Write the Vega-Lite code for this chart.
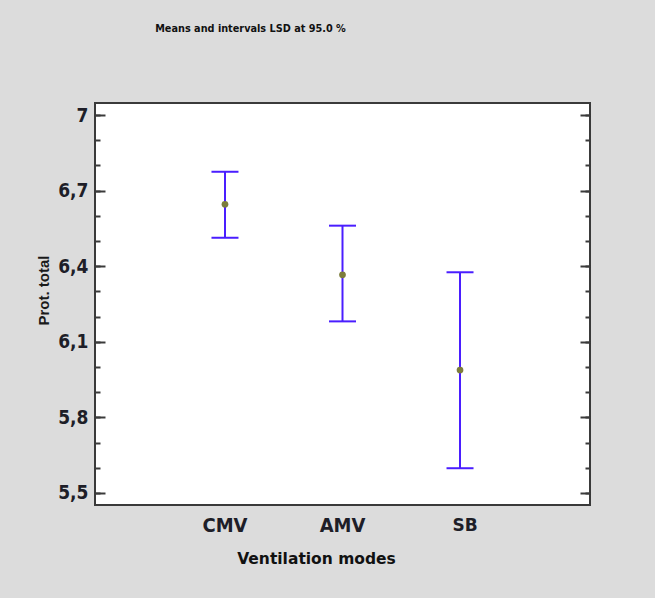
{
  "$schema": "https://vega.github.io/schema/vega-lite/v6.json",
  "autosize": "none",
  "width": 495,
  "height": 402,
  "padding": {"left": 95, "top": 103, "right": 65, "bottom": 93},
  "background": "#dcdcdc",
  "title": {
    "text": "Means and intervals LSD at 95.0 %",
    "font": "DejaVu Sans Condensed",
    "fontSize": 10.8,
    "fontWeight": "bold",
    "color": "#111111",
    "anchor": "middle",
    "dx": -92,
    "offset": 63,
    "baseline": "middle"
  },
  "config": {
    "view": {"fill": "white", "stroke": "#3a3a3a", "strokeWidth": 2},
    "axis": {"grid": false, "domain": false}
  },
  "data": {
    "values": [
      {"mode": "CMV", "mean": 6.646, "lo": 6.513, "hi": 6.775},
      {"mode": "AMV", "mean": 6.366, "lo": 6.181, "hi": 6.561},
      {"mode": "SB", "mean": 5.988, "lo": 5.598, "hi": 6.376}
    ]
  },
  "resolve": {"axis": {"y": "independent"}},
  "layer": [
    {
      "mark": {"type": "rule", "color": "#4a1eff", "strokeWidth": 2, "opacity": 1},
      "encoding": {
        "x": {
          "field": "mode",
          "type": "nominal",
          "sort": ["CMV", "AMV", "SB"],
          "scale": {"type": "band", "paddingInner": 0, "paddingOuter": 0.606},
          "axis": {
            "title": "Ventilation modes",
            "titleFont": "DejaVu Sans",
            "titleFontSize": 15.5,
            "titleFontWeight": "bold",
            "titleColor": "#111111",
            "titleX": 221,
            "titleY": 53,
            "titleBaseline": "middle",
            "titleAlign": "center",
            "labelAngle": 0,
            "ticks": false,
            "labelPadding": 20,
            "labelBaseline": "middle",
            "labelColor": "#1e1e28",
            "labelFont": {"condition": {"test": "datum.value == 'SB'", "value": "DejaVu Sans"}, "value": "DejaVu Sans Condensed"},
            "labelFontSize": {"condition": {"test": "datum.value == 'SB'", "value": 17}, "value": 20},
            "labelFontWeight": "bold",
            "labelOffset": {"condition": {"test": "datum.value == 'SB'", "value": 5}, "value": 0}
          }
        },
        "y": {
          "field": "lo",
          "type": "quantitative",
          "scale": {"domain": [5.452, 7.048], "nice": false, "zero": false},
          "axis": {
            "orient": "left",
            "title": "Prot. total",
            "titleFont": "Liberation Sans",
            "titleFontSize": 15,
            "titleFontWeight": "bold",
            "titleColor": "#1a1a1a",
            "titleX": -52,
            "titleY": 187,
            "titleAngle": -90,
            "titleAlign": "center",
            "titleBaseline": "middle",
            "values": [5.5, 5.8, 6.1, 6.4, 6.7, 7.0],
            "labelExpr": "datum.value == 7 ? '7' : replace(format(datum.value, '.1f'), '.', ',')",
            "labelFont": "DejaVu Sans Condensed",
            "labelFontSize": 19,
            "labelFontWeight": "bold",
            "labelColor": "#1e1e28",
            "labelPadding": 17,
            "labelBaseline": "middle",
            "tickSize": -10,
            "tickWidth": 2,
            "tickColor": "#3a3a3a"
          }
        },
        "y2": {"field": "hi"}
      }
    },
    {
      "mark": {"type": "tick", "orient": "horizontal", "color": "#4a1eff", "size": 27, "thickness": 2, "opacity": 1},
      "encoding": {
        "x": {"field": "mode", "type": "nominal", "sort": ["CMV", "AMV", "SB"], "scale": {"type": "band", "paddingInner": 0, "paddingOuter": 0.606}},
        "y": {
          "field": "lo",
          "type": "quantitative",
          "axis": {
            "orient": "left",
            "title": null,
            "labels": false,
            "values": [5.5, 5.6, 5.7, 5.8, 5.9, 6.0, 6.1, 6.2, 6.3, 6.4, 6.5, 6.6, 6.7, 6.8, 6.9, 7.0],
            "tickSize": -5,
            "tickWidth": 2,
            "tickColor": "#3a3a3a"
          }
        }
      }
    },
    {
      "mark": {"type": "tick", "orient": "horizontal", "color": "#4a1eff", "size": 27, "thickness": 2, "opacity": 1},
      "encoding": {
        "x": {"field": "mode", "type": "nominal", "sort": ["CMV", "AMV", "SB"], "scale": {"type": "band", "paddingInner": 0, "paddingOuter": 0.606}},
        "y": {
          "field": "hi",
          "type": "quantitative",
          "axis": {
            "orient": "right",
            "title": null,
            "labels": false,
            "values": [5.5, 5.8, 6.1, 6.4, 6.7, 7.0],
            "tickSize": -10,
            "tickWidth": 2,
            "tickColor": "#3a3a3a"
          }
        }
      }
    },
    {
      "mark": {"type": "point", "filled": true, "shape": "circle", "size": 45, "color": "#7d7d3c", "opacity": 1},
      "encoding": {
        "x": {"field": "mode", "type": "nominal", "sort": ["CMV", "AMV", "SB"], "scale": {"type": "band", "paddingInner": 0, "paddingOuter": 0.606}},
        "y": {
          "field": "mean",
          "type": "quantitative",
          "axis": {
            "orient": "right",
            "title": null,
            "labels": false,
            "values": [5.5, 5.6, 5.7, 5.8, 5.9, 6.0, 6.1, 6.2, 6.3, 6.4, 6.5, 6.6, 6.7, 6.8, 6.9, 7.0],
            "tickSize": -5,
            "tickWidth": 2,
            "tickColor": "#3a3a3a"
          }
        }
      }
    }
  ]
}
